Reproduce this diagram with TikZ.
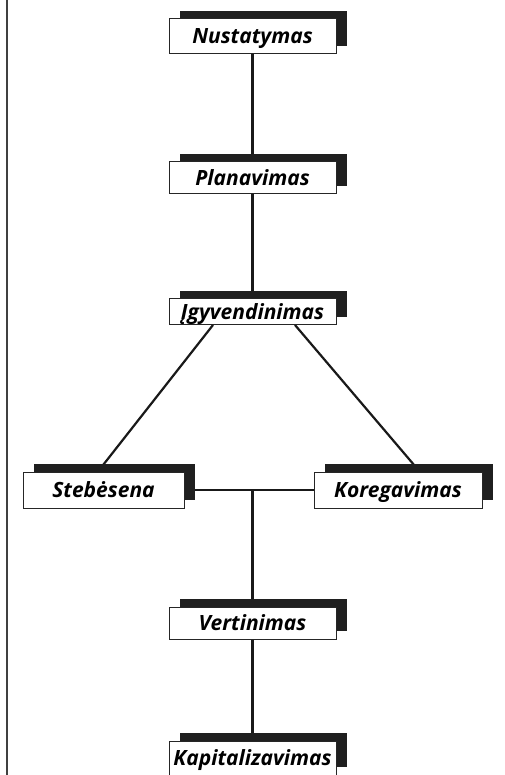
\documentclass[tikz,border=0pt]{standalone}
\usepackage{fontspec}
\setmainfont{Open Sans}
\usetikzlibrary{shadows,backgrounds}
\begin{document}
\begin{tikzpicture}[x=1pt,y=-1pt,
  stagebox/.style={draw=black!85, line width=1pt, fill=white, inner sep=0pt,
    text depth=0pt, minimum width=167pt, font=\fontsize{21}{24}\selectfont\bfseries\itshape,
    general shadow={fill=black!88, shadow xshift=10.5pt, shadow yshift=8pt}},
  conn/.style={line width=2.2pt, black!90}]
\useasboundingbox (0,0) rectangle (504,775);
\node[stagebox, minimum height=35pt] (n1) at (252.5,36.5) {Nustatymas};
\node[stagebox, minimum height=32pt] (n2) at (252.5,178) {Planavimas};
\node[stagebox, minimum height=26pt] (n3) at (252.5,311.5) {Įgyvendinimas};
\node[stagebox, minimum height=36pt, minimum width=161pt] (n4) at (103.5,490) {Stebėsena};
\node[stagebox, minimum height=36pt, minimum width=168pt] (n5) at (398,490) {Koregavimas};
\node[stagebox, minimum height=32pt] (n6) at (252.5,623) {Vertinimas};
\node[stagebox, minimum height=34pt] (n7) at (252.5,758) {Kapitalizavimas};
\coordinate (top) at (7,0);
\coordinate (bot) at (7,775);
\coordinate (mid) at (n6.north |- n4.east);
\begin{pgfonlayer}{background}
\draw[conn] (n1.south) -- (n2.north);
\draw[conn] (n2.south) -- (n3.north);
\draw[conn] ([xshift=-39.5pt]n3.south) -- ([xshift=-5.5pt]n4.north);
\draw[conn] ([xshift=42.5pt]n3.south) -- ([xshift=21.6pt]n5.north);
\draw[conn] (n4.east) -- (n5.west);
\draw[conn] (mid) -- (n6.north);
\draw[conn] (n6.south) -- (n7.north);
\draw[line width=1.2pt, black!75] (top) -- (bot);
\end{pgfonlayer}
\end{tikzpicture}
\end{document}
